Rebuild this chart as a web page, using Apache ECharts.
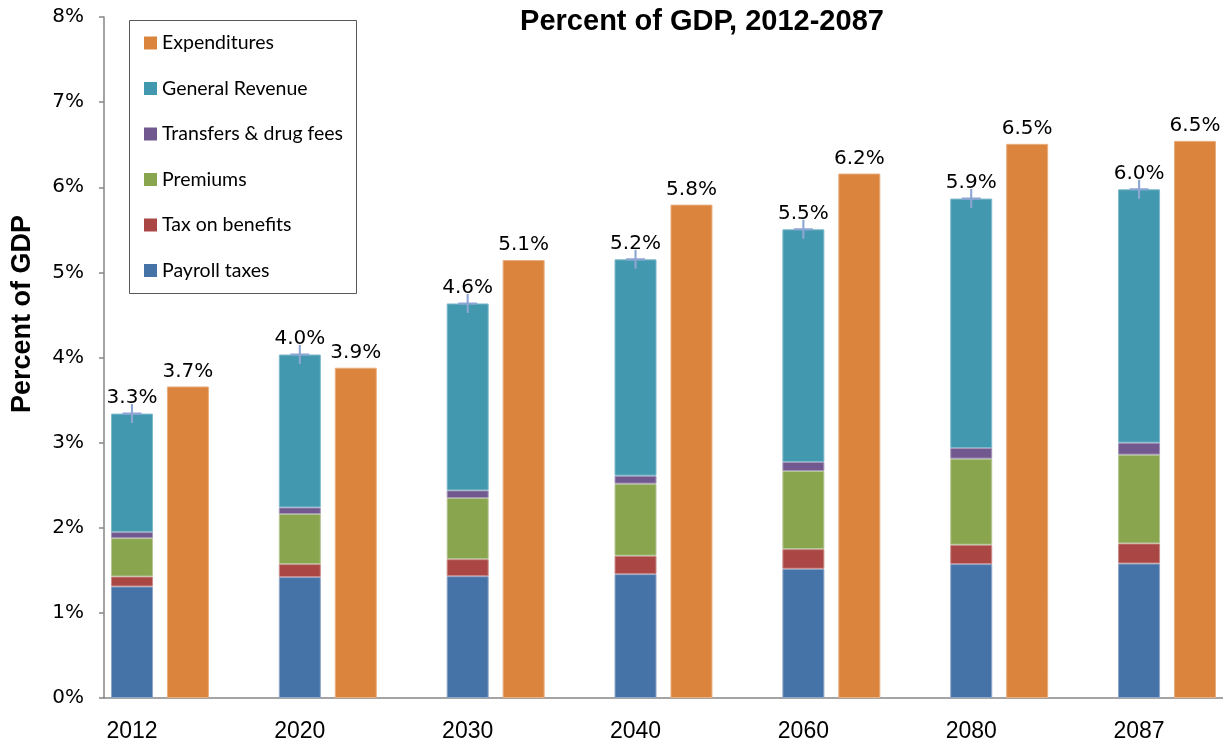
<!DOCTYPE html>
<html>
<head>
<meta charset="utf-8">
<script src="https://cdn.jsdelivr.net/npm/echarts@6/dist/echarts.min.js"></script>
<style>html,body{margin:0;padding:0;background:#fff;}#c{width:1223px;height:744px;}</style>
</head>
<body>
<div id="c"></div>
<script>
var years = ['2012','2020','2030','2040','2060','2080','2087'];
var payrollTaxes = [1.31, 1.42, 1.431, 1.455, 1.518, 1.573, 1.58];
var taxOnBenefits = [0.117, 0.153, 0.2, 0.216, 0.231, 0.227, 0.236];
var premiums = [0.451, 0.588, 0.718, 0.847, 0.918, 1.012, 1.043];
var transfersDrugFees = [0.071, 0.078, 0.09, 0.094, 0.106, 0.125, 0.141];
var generalRevenue = [1.392, 1.796, 2.196, 2.541, 2.733, 2.93, 2.976];
var expenditures = [3.66, 3.88, 5.145, 5.796, 6.161, 6.51, 6.545];
var yTicks = [0,1,2,3,4,5,6,7,8];

// Build category slots: [year (stacked income), year-exp (expenditures), gap]
var cats = [];
var idxIncome = [], idxExp = [];
years.forEach(function(y, i){
  idxIncome.push(cats.length); cats.push(y);
  idxExp.push(cats.length); cats.push(y + '_exp');
  if (i < years.length - 1) cats.push(y + '_gap');
});
function onIncome(arr){ var d = cats.map(function(){return '-';}); idxIncome.forEach(function(ci,i){ d[ci] = arr[i]; }); return d; }
function onExp(arr){ var d = cats.map(function(){return '-';}); idxExp.forEach(function(ci,i){ d[ci] = arr[i]; }); return d; }
var totals = years.map(function(_, i){ return payrollTaxes[i] + taxOnBenefits[i] + premiums[i] + transfersDrugFees[i] + generalRevenue[i]; });

var chart = echarts.init(document.getElementById('c'));
var valFont = 'DejaVu Sans';
function stackBar(name, arr, color, border){
  return { name: name, type: 'bar', stack: 'income', barWidth: 42, barGap: '-100%', data: onIncome(arr),
    itemStyle: { color: color, borderColor: border, borderWidth: 1 }, emphasis: { disabled: true } };
}
chart.setOption({
  animation: false,
  grid: { left: 104, top: 17, width: 1120, height: 681, containLabel: false },
  legend: {
    orient: 'vertical', left: 144, top: 33, padding: 0,
    itemWidth: 13, itemHeight: 13, itemGap: 25.5, icon: 'rect',
    itemStyle: { borderWidth: 0 },
    textStyle: { fontFamily: 'Lato', fontSize: 19.5, color: '#000', lineHeight: 20 },
    data: ['Expenditures', 'General Revenue', 'Transfers & drug fees', 'Premiums', 'Tax on benefits', 'Payroll taxes'],
    selectedMode: false
  },
  graphic: [
    { type: 'rect', shape: { x: 129.5, y: 20.5, width: 227, height: 273 }, style: { fill: 'none', stroke: '#595959', lineWidth: 1 }, z: 10 },
    { type: 'text', x: 702, y: 22, style: { text: 'Percent of GDP, 2012-2087', align: 'center', verticalAlign: 'middle', fontSize: 29, fontWeight: 'bold', fontFamily: 'Liberation Sans', fill: '#000' } },
    { type: 'text', x: 23, y: 314, rotation: Math.PI / 2, style: { text: 'Percent of GDP', align: 'center', verticalAlign: 'middle', fontSize: 27, fontWeight: 'bold', fontFamily: 'Liberation Sans', fill: '#000' } }
  ],
  xAxis: {
    type: 'category', data: cats, boundaryGap: true,
    axisLine: { lineStyle: { color: '#868686', width: 1.5 } },
    axisTick: { interval: 0, length: 5, lineStyle: { color: '#868686', width: 1.5 } },
    axisLabel: { interval: 0, margin: 22, fontFamily: 'Liberation Sans', fontSize: 23, color: '#000',
      formatter: function(v){ return years.indexOf(v) >= 0 ? v : ''; } }
  },
  yAxis: {
    type: 'value', min: yTicks[0], max: yTicks[yTicks.length - 1], interval: 1,
    axisLine: { show: true, lineStyle: { color: '#868686', width: 1.5 } },
    axisTick: { show: true, length: 5, lineStyle: { color: '#868686', width: 1.5 } },
    splitLine: { show: false },
    axisLabel: { margin: 20, fontFamily: valFont, fontSize: 20, color: '#000', formatter: '{value}%' }
  },
  series: [
    stackBar('Payroll taxes', payrollTaxes, '#4572A7', '#8FA6C8'),
    stackBar('Tax on benefits', taxOnBenefits, '#AA4643', '#C98B89'),
    stackBar('Premiums', premiums, '#89A54E', '#B5C695'),
    stackBar('Transfers & drug fees', transfersDrugFees, '#71588F', '#A597B8'),
    stackBar('General Revenue', generalRevenue, '#4198AF', '#7FBACB'),
    { name: 'Expenditures', type: 'bar', barWidth: 42, barGap: '-100%', data: onExp(expenditures),
      itemStyle: { color: '#DB843D', borderColor: '#E9AE80', borderWidth: 1 }, emphasis: { disabled: true },
      label: { show: true, position: 'top', distance: 5, fontFamily: valFont, fontSize: 20, color: '#000',
        formatter: function(p){ return p.value.toFixed(1) + '%'; } } },
    { name: 'Total income', type: 'scatter', data: onIncome(totals), z: 5,
      symbol: 'path://M8,0H10V8H18V10H10V18H8V10H0V8H8Z', symbolSize: [19, 19],
      itemStyle: { color: '#8DA5D3', opacity: 1 }, emphasis: { disabled: true },
      label: { show: true, position: 'top', distance: -4, fontFamily: valFont, fontSize: 20, color: '#000', opacity: 1,
        formatter: function(p){ return p.value.toFixed(1) + '%'; } } }
  ]
});
</script>
</body>
</html>
